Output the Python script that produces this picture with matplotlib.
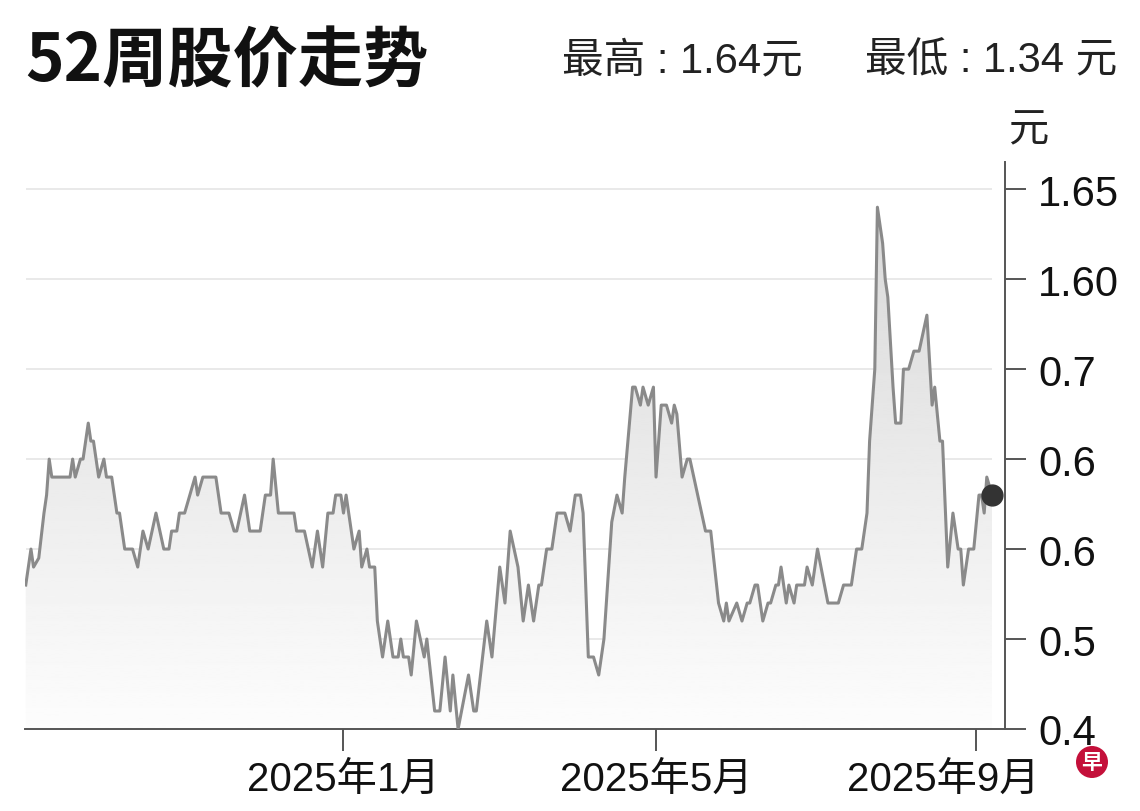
import datetime as dt
import numpy as np
import matplotlib
matplotlib.use("Agg")
import matplotlib.pyplot as plt
import matplotlib.dates as mdates
import matplotlib.transforms as mtransforms
from matplotlib.patches import Ellipse

plt.rcParams['font.family'] = ['Liberation Sans', 'Noto Sans CJK SC', 'DejaVu Sans']

# 每日收盘价 (从 2024-09-01 起的天数, 价格)
start_date = dt.date(2024, 9, 1)
days = [0, 2, 3, 5, 7, 8, 9, 10, 17, 18, 19, 21, 22, 24, 25, 26, 28, 30, 31, 33,
        35, 36, 38, 41, 43, 45, 47, 50, 53, 55, 56, 58, 59, 61, 65, 66, 68, 73, 75, 78,
        80, 81, 84, 86, 90, 92, 94, 95, 97, 103, 104, 107, 110, 112, 114, 116, 118, 119, 121, 122,
        123, 126, 128, 129, 131, 132, 134, 135, 137, 139, 141, 143, 144, 145, 147, 148, 150, 153, 154, 157,
        159, 161, 163, 164, 166, 170, 172, 173, 177, 179, 182, 184, 186, 189, 191, 193, 195, 197, 198, 200,
        202, 204, 207, 209, 211, 213, 214, 216, 218, 220, 222, 225, 227, 229, 230, 233, 234, 236, 237, 239,
        241, 242, 244, 246, 248, 249, 250, 252, 254, 255, 261, 263, 266, 268, 269, 270, 273, 275, 277, 278,
        280, 281, 283, 285, 286, 288, 289, 290, 292, 293, 295, 296, 299, 300, 302, 304, 308, 312, 314, 317,
        319, 321, 323, 324, 326, 327, 329, 330, 331, 333, 334, 336, 337, 339, 341, 343, 346, 348, 349, 351,
        352, 354, 356, 358, 359, 360, 362, 364, 366, 367, 368, 369, 371]
price = [1.43, 1.45, 1.44, 1.445, 1.47, 1.48, 1.50, 1.49, 1.49, 1.50, 1.49, 1.50, 1.50, 1.52, 1.51, 1.51, 1.49, 1.50, 1.49, 1.49,
         1.47, 1.47, 1.45, 1.45, 1.44, 1.46, 1.45, 1.47, 1.45, 1.45, 1.46, 1.46, 1.47, 1.47, 1.49, 1.48, 1.49, 1.49, 1.47, 1.47,
         1.46, 1.46, 1.48, 1.46, 1.46, 1.48, 1.48, 1.50, 1.47, 1.47, 1.46, 1.46, 1.44, 1.46, 1.44, 1.47, 1.47, 1.48, 1.48, 1.47,
         1.48, 1.45, 1.46, 1.44, 1.45, 1.44, 1.44, 1.41, 1.39, 1.41, 1.39, 1.39, 1.40, 1.39, 1.39, 1.38, 1.41, 1.39, 1.40, 1.36,
         1.36, 1.39, 1.36, 1.38, 1.35, 1.38, 1.36, 1.36, 1.41, 1.39, 1.44, 1.42, 1.46, 1.44, 1.41, 1.43, 1.41, 1.43, 1.43, 1.45,
         1.45, 1.47, 1.47, 1.46, 1.48, 1.48, 1.47, 1.39, 1.39, 1.38, 1.40, 1.465, 1.48, 1.47, 1.49, 1.54, 1.54, 1.53, 1.54, 1.53,
         1.54, 1.49, 1.53, 1.53, 1.52, 1.53, 1.525, 1.49, 1.50, 1.50, 1.46, 1.46, 1.42, 1.41, 1.42, 1.41, 1.42, 1.41, 1.42, 1.42,
         1.43, 1.43, 1.41, 1.42, 1.42, 1.43, 1.43, 1.44, 1.42, 1.43, 1.42, 1.43, 1.43, 1.44, 1.43, 1.45, 1.42, 1.42, 1.43, 1.43,
         1.45, 1.45, 1.47, 1.51, 1.55, 1.64, 1.62, 1.60, 1.59, 1.54, 1.52, 1.52, 1.55, 1.55, 1.56, 1.56, 1.58, 1.53, 1.54, 1.51,
         1.51, 1.44, 1.47, 1.45, 1.45, 1.43, 1.45, 1.45, 1.48, 1.48, 1.47, 1.49, 1.48]

# 纵轴刻度 (标签按原图)
ytick_vals = [1.65, 1.60, 1.55, 1.50, 1.45, 1.40, 1.35]
ytick_labels = ['1.65', '1.60', '0.7', '0.6', '0.6', '0.5', '0.4']
xtick_dates = [dt.date(2025, 1, 1), dt.date(2025, 5, 1), dt.date(2025, 9, 1)]
xtick_labels = ['2025年1月', '2025年5月', '2025年9月']

dates = [start_date + dt.timedelta(days=d) for d in days]
x = mdates.date2num(dates)
y = np.array(price)

fig = plt.figure(figsize=(11.4, 8.12), dpi=100)
ax = fig.add_axes([0.0219, 0.101, 0.8597, 0.698])

y_lo, y_hi = 1.35, 1.665
x_lo = x[0] - 0.3
x_hi = mdates.date2num(start_date + dt.timedelta(days=376))
ax.set_xlim(x_lo, x_hi)
ax.set_ylim(y_lo, y_hi)

# 网格线
ax.hlines(ytick_vals[:-1], x[0], x[-1], colors='#e9e9e9', linewidth=1.4, zorder=1)

# 渐变填充
fill = ax.fill_between(x, y, y_lo, facecolor='none', edgecolor='none')
grad = np.linspace(0.99, 0.84, 256).reshape(-1, 1)
img = ax.imshow(grad, cmap='gray', vmin=0, vmax=1, aspect='auto', origin='lower',
                extent=[x_lo, x_hi, y_lo, 1.66], zorder=2)
img.set_clip_path(fill.get_paths()[0], transform=ax.transData)

ax.plot(x, y, color='#8a8a8a', linewidth=2.2, zorder=3, solid_joinstyle='round')
ax.plot(x[-1], y[-1], 'o', color='#333333', markersize=15, zorder=4, clip_on=False)

for s in ['top', 'left']:
    ax.spines[s].set_visible(False)
ax.spines['bottom'].set_color('#555555')
ax.spines['bottom'].set_linewidth(1.4)
ax.spines['right'].set_color('#555555')
ax.spines['right'].set_linewidth(1.4)

ax.yaxis.tick_right()
ax.set_yticks(ytick_vals)
ax.set_yticklabels(ytick_labels, fontsize=30)
ax.tick_params(axis='y', direction='out', length=15, width=1.4, color='#555555', pad=9,
               labelcolor='#111111')

ax.set_xticks(mdates.date2num(xtick_dates))
ax.set_xticklabels(xtick_labels, fontsize=29)
ax.tick_params(axis='x', direction='out', length=16, width=1.4, color='#555555', pad=6,
               labelcolor='#111111')
# 最后一个标签左移, 避开右下角标志
last = ax.get_xticklabels()[-1]
last.set_transform(last.get_transform() + mtransforms.ScaledTranslation(-0.33, 0, fig.dpi_scale_trans))

# 标题和最高/最低
fig.text(0.022, 0.924, '52周股价走势', fontsize=47, fontweight='heavy',
         family='Noto Sans CJK SC', va='center', ha='left', color='#111111')
fig.text(0.493, 0.924, '最高 : 1.64元', fontsize=30, va='center', ha='left', color='#222222')
fig.text(0.759, 0.924, '最低 : 1.34 元', fontsize=30, va='center', ha='left', color='#222222')
fig.text(1008 / 1140, 1 - 130 / 812, '元', fontsize=29, family='Noto Sans CJK SC',
         va='center', ha='left', color='#222222')

# 右下角标志
logo = Ellipse((1092 / 1140, 1 - 763 / 812), 32 / 1140, 32 / 812, transform=fig.transFigure,
               facecolor='#c4103a', edgecolor='none')
fig.patches.append(logo)
fig.text(1092 / 1140, 1 - 763 / 812, '早', fontsize=15, fontweight='bold', color='white',
         family='Noto Sans CJK SC', ha='center', va='center')

fig.savefig('out.png', dpi=100, facecolor='white')
